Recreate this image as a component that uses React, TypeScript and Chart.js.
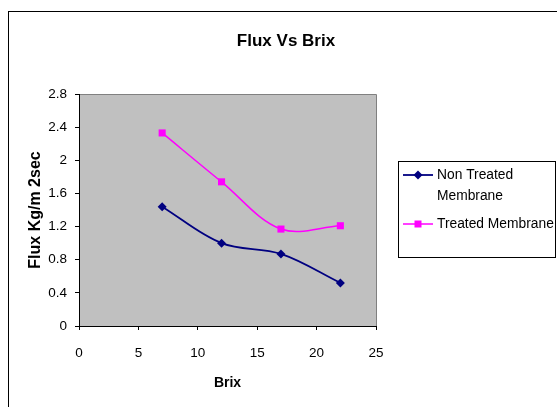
import React, { useEffect, useRef } from "react";
import { Chart, registerables } from "chart.js";

Chart.register(...registerables);

const brix = [7, 12, 17, 22];
const nonTreated = [1.44, 1.0, 0.87, 0.52];
const treated = [2.33, 1.74, 1.17, 1.21];
const yTicks = [0, 0.4, 0.8, 1.2, 1.6, 2, 2.4, 2.8];
const xTicks = [0, 5, 10, 15, 20, 25];
const seriesNames = ["Non Treated Membrane", "Treated Membrane"];
const legendLines = [["Non Treated", "Membrane"], ["Treated Membrane"]];
const titleText = "Flux Vs Brix";
const xTitle = "Brix";
const yTitle = "Flux Kg/m 2sec";

const FAMILY = '"Liberation Sans", Arial, sans-serif';
const NAVY = "#000080";
const PINK = "#FF00FF";

function drawMarker(ctx: CanvasRenderingContext2D, style: string, x: number, y: number, color: string) {
  ctx.fillStyle = color;
  ctx.beginPath();
  if (style === "rectRot") {
    const r = 4.5;
    ctx.moveTo(x, y - r);
    ctx.lineTo(x + r, y);
    ctx.lineTo(x, y + r);
    ctx.lineTo(x - r, y);
    ctx.closePath();
  } else {
    const s = 3.5;
    ctx.rect(x - s, y - s, 2 * s, 2 * s);
  }
  ctx.fill();
}

const decor = {
  id: "decor",
  beforeDraw(chart: any) {
    const { ctx, chartArea: a } = chart;
    ctx.save();
    ctx.fillStyle = "#ffffff";
    ctx.fillRect(0, 0, chart.width, chart.height);
    ctx.strokeStyle = "#000";
    ctx.lineWidth = 1;
    ctx.strokeRect(8.5, 11.5, chart.width + 20, chart.height + 20);
    ctx.fillStyle = "#c0c0c0";
    ctx.fillRect(a.left, a.top, a.right - a.left, a.bottom - a.top);
    ctx.strokeStyle = "#808080";
    ctx.beginPath();
    ctx.moveTo(a.left, a.top + 0.5);
    ctx.lineTo(a.right + 0.5, a.top + 0.5);
    ctx.lineTo(a.right + 0.5, a.bottom);
    ctx.stroke();
    ctx.fillStyle = "#000";
    ctx.font = `bold 17px ${FAMILY}`;
    ctx.textAlign = "center";
    ctx.textBaseline = "middle";
    ctx.fillText(titleText, 286, 41);
    ctx.restore();
  },
  afterDraw(chart: any) {
    const { ctx } = chart;
    ctx.save();
    ctx.strokeStyle = "#000";
    ctx.lineWidth = 1;
    ctx.strokeRect(398.5, 161.5, 157, 96);
    ctx.font = `13.8px ${FAMILY}`;
    ctx.textAlign = "left";
    ctx.textBaseline = "middle";
    const rowY = [175, 224];
    chart.data.datasets.forEach((ds: any, i: number) => {
      const y = rowY[i];
      ctx.strokeStyle = ds.borderColor;
      ctx.lineWidth = ds.borderWidth;
      ctx.beginPath();
      ctx.moveTo(403, y);
      ctx.lineTo(433, y);
      ctx.stroke();
      drawMarker(ctx, ds.pointStyle, 418, y, ds.borderColor);
      ctx.fillStyle = "#000";
      legendLines[i].forEach((t, j) => ctx.fillText(t, 437, y + j * 21));
    });
    ctx.restore();
  },
};

export default function App() {
  const ref = useRef<HTMLCanvasElement>(null);
  useEffect(() => {
    Chart.defaults.font.family = FAMILY;
    const chart = new Chart(ref.current!, {
      type: "line",
      data: {
        datasets: [
          {
            label: seriesNames[0],
            data: brix.map((x, i) => ({ x, y: nonTreated[i] })),
            borderColor: NAVY,
            backgroundColor: NAVY,
            borderWidth: 1.8,
            pointStyle: "rectRot",
            pointRadius: 4.5,
            pointBorderWidth: 0,
            tension: 0.35,
          },
          {
            label: seriesNames[1],
            data: brix.map((x, i) => ({ x, y: treated[i] })),
            borderColor: PINK,
            backgroundColor: PINK,
            borderWidth: 1.5,
            pointStyle: "rect",
            pointRadius: 5,
            pointBorderWidth: 0,
            tension: 0.35,
          },
        ],
      },
      options: {
        responsive: false,
        animation: false,
        layout: { padding: { left: 0, top: 94, right: 181, bottom: 0 } },
        plugins: { legend: { display: false }, title: { display: false }, tooltip: { enabled: false } },
        scales: {
          x: {
            type: "linear",
            min: 0,
            max: 25,
            afterBuildTicks: (s: any) => {
              s.ticks = xTicks.map((v) => ({ value: v }));
            },
            afterFit: (s: any) => {
              s.height = 81;
            },
            grid: { display: true, drawOnChartArea: false, drawTicks: true, tickLength: 4, color: "#000" },
            border: { display: true, color: "#000", width: 1 },
            ticks: { color: "#000", font: { size: 13.5 }, padding: 15, maxRotation: 0 },
            title: {
              display: true,
              text: xTitle,
              color: "#000",
              font: { size: 14, weight: "bold" },
              padding: { top: 0, bottom: 15 },
            },
          },
          y: {
            type: "linear",
            min: 0,
            max: 2.8,
            afterBuildTicks: (s: any) => {
              s.ticks = yTicks.map((v) => ({ value: v }));
            },
            afterFit: (s: any) => {
              s.width = 79;
            },
            grid: { display: true, drawOnChartArea: false, drawTicks: true, tickLength: 4, color: "#000" },
            border: { display: true, color: "#000", width: 1 },
            ticks: {
              color: "#000",
              font: { size: 13.5 },
              padding: 8,
              callback: (v: any) => String(Math.round(Number(v) * 10) / 10),
            },
            title: {
              display: true,
              text: yTitle,
              color: "#000",
              font: { size: 16, weight: "bold" },
              padding: { top: 26, bottom: 0 },
            },
          },
        },
      } as any,
      plugins: [decor],
    });
    return () => chart.destroy();
  }, []);
  return (
    <div style={{ position: "absolute", left: 0, top: 0, width: 557, height: 407 }}>
      <canvas ref={ref} width={557} height={407} style={{ display: "block" }} />
    </div>
  );
}
